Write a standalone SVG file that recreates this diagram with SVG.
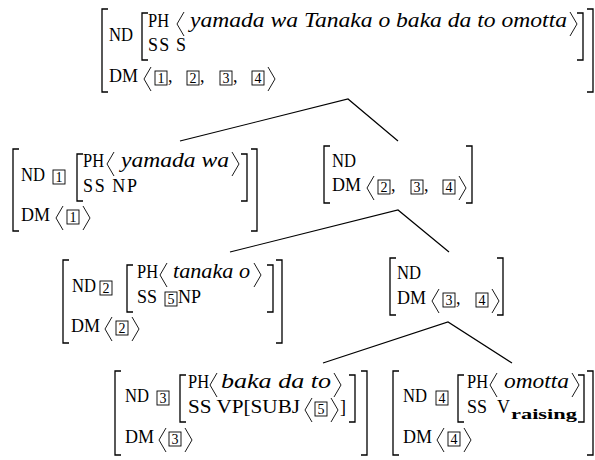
<svg xmlns="http://www.w3.org/2000/svg" width="595" height="460" viewBox="0 0 595 460" font-family="Liberation Serif, serif">
<style>
text{font-family:'Liberation Serif','Times New Roman',serif;font-size:18px;fill:#000}
.i{font-style:italic;font-size:20px}
.n{font-size:14px;text-anchor:middle}
.sb{font-weight:bold;font-size:15px}
.br{fill:none;stroke:#000;stroke-width:1.3}
.ag{fill:none;stroke:#000;stroke-width:0.9;stroke-linejoin:miter}
.bx{fill:none;stroke:#000;stroke-width:0.9}
.cn{fill:none;stroke:#000;stroke-width:1.2}
</style>
<rect width="595" height="460" fill="#fff"/>

<g id="connectors">
<polyline class="cn" points="180,141 348,99 398,141"/>
<polyline class="cn" points="230,252 398,210 449,252"/>
<polyline class="cn" points="323,363 448,322 512,363"/>
</g>

<g id="node0">
<path class="br" d="M108,9H102V92H108"/>
<path class="br" d="M587,9H593V92H587"/>
<path class="br" d="M148,13H142V60H148"/>
<path class="br" d="M577,13H583V60H577"/>
<text x="109" y="41" textLength="24" lengthAdjust="spacingAndGlyphs">ND</text>
<text x="148" y="27" textLength="21" lengthAdjust="spacingAndGlyphs">PH</text>
<polyline class="ag" points="184,12 177,24 184,36"/>
<text class="i" x="190" y="27" textLength="377" lengthAdjust="spacingAndGlyphs">yamada wa Tanaka o baka da to omotta</text>
<polyline class="ag" points="570,12 577,24 570,36"/>
<text x="148" y="51" textLength="38" lengthAdjust="spacing">SS S</text>
<text x="109" y="82">DM</text>
<polyline class="ag" points="151,67 144,79 151,91"/>
<rect class="bx" x="155" y="71" width="12" height="14"/><text class="n" x="161" y="83">1</text>
<text x="168" y="82">,</text>
<rect class="bx" x="187" y="71" width="12" height="14"/><text class="n" x="193" y="83">2</text>
<text x="200" y="82">,</text>
<rect class="bx" x="220" y="71" width="12" height="14"/><text class="n" x="226" y="83">3</text>
<text x="233" y="82">,</text>
<rect class="bx" x="252" y="71" width="12" height="14"/><text class="n" x="258" y="83">4</text>
<polyline class="ag" points="268,67 275,79 268,91"/>
</g>

<g id="node1">
<path class="br" d="M19,149H13V231H19"/>
<path class="br" d="M251,149H257V231H251"/>
<path class="br" d="M83,154H77V201H83"/>
<path class="br" d="M241,154H247V201H241"/>
<text x="21" y="181" textLength="24" lengthAdjust="spacingAndGlyphs">ND</text>
<rect class="bx" x="53" y="170" width="12" height="14"/><text class="n" x="59" y="182">1</text>
<text x="83" y="167" textLength="21" lengthAdjust="spacingAndGlyphs">PH</text>
<polyline class="ag" points="114,152 107,164 114,176"/>
<text class="i" x="121" y="167" textLength="108" lengthAdjust="spacingAndGlyphs">yamada wa</text>
<polyline class="ag" points="232,152 239,164 232,176"/>
<text x="83" y="192" textLength="54" lengthAdjust="spacing">SS NP</text>
<text x="21" y="221">DM</text>
<polyline class="ag" points="63,206 56,218 63,230"/>
<rect class="bx" x="67" y="210" width="12" height="14"/><text class="n" x="73" y="222">1</text>
<polyline class="ag" points="83,206 90,218 83,230"/>
</g>

<g id="node2">
<path class="br" d="M330,146H324V203H330"/>
<path class="br" d="M466,146H472V203H466"/>
<text x="332" y="167" textLength="24" lengthAdjust="spacingAndGlyphs">ND</text>
<text x="332" y="191">DM</text>
<polyline class="ag" points="374,176 367,188 374,200"/>
<rect class="bx" x="378" y="180" width="12" height="14"/><text class="n" x="384" y="192">2</text>
<text x="391" y="191">,</text>
<rect class="bx" x="411" y="180" width="12" height="14"/><text class="n" x="417" y="192">3</text>
<text x="424" y="191">,</text>
<rect class="bx" x="443" y="180" width="12" height="14"/><text class="n" x="449" y="192">4</text>
<polyline class="ag" points="459,176 466,188 459,200"/>
</g>

<g id="node3">
<path class="br" d="M69,260H63V343H69"/>
<path class="br" d="M276,260H282V343H276"/>
<path class="br" d="M133,265H127V312H133"/>
<path class="br" d="M267,265H273V312H267"/>
<text x="72" y="292" textLength="24" lengthAdjust="spacingAndGlyphs">ND</text>
<rect class="bx" x="100" y="281" width="12" height="14"/><text class="n" x="106" y="293">2</text>
<text x="137" y="278" textLength="21" lengthAdjust="spacingAndGlyphs">PH</text>
<polyline class="ag" points="167,263 160,275 167,287"/>
<text class="i" x="173" y="278" textLength="77" lengthAdjust="spacingAndGlyphs">tanaka o</text>
<polyline class="ag" points="254,263 261,275 254,287"/>
<text x="137" y="303">SS</text>
<rect class="bx" x="165" y="292" width="12" height="14"/><text class="n" x="171" y="304">5</text>
<text x="178" y="303">NP</text>
<text x="71" y="332">DM</text>
<polyline class="ag" points="112,317 105,329 112,341"/>
<rect class="bx" x="116" y="321" width="12" height="14"/><text class="n" x="122" y="333">2</text>
<polyline class="ag" points="132,317 139,329 132,341"/>
</g>

<g id="node4">
<path class="br" d="M396,258H390V315H396"/>
<path class="br" d="M497,258H503V315H497"/>
<text x="397" y="279" textLength="24" lengthAdjust="spacingAndGlyphs">ND</text>
<text x="397" y="304">DM</text>
<polyline class="ag" points="439,289 432,301 439,313"/>
<rect class="bx" x="443" y="293" width="12" height="14"/><text class="n" x="449" y="305">3</text>
<text x="456" y="304">,</text>
<rect class="bx" x="476" y="293" width="12" height="14"/><text class="n" x="482" y="305">4</text>
<polyline class="ag" points="492,289 499,301 492,313"/>
</g>

<g id="node5">
<path class="br" d="M121,371H115V455H121"/>
<path class="br" d="M361,371H367V455H361"/>
<path class="br" d="M186,375H180V422H186"/>
<path class="br" d="M349,375H355V422H349"/>
<text x="125" y="402" textLength="24" lengthAdjust="spacingAndGlyphs">ND</text>
<rect class="bx" x="157" y="391" width="12" height="14"/><text class="n" x="163" y="403">3</text>
<text x="188" y="388" textLength="21" lengthAdjust="spacingAndGlyphs">PH</text>
<polyline class="ag" points="217,373 210,385 217,397"/>
<text class="i" x="221" y="388" textLength="110" lengthAdjust="spacingAndGlyphs">baka da to</text>
<polyline class="ag" points="334,373 341,385 334,397"/>
<text x="188" y="413" textLength="112" lengthAdjust="spacingAndGlyphs">SS VP[SUBJ</text>
<polyline class="ag" points="312,398 305,410 312,422"/>
<rect class="bx" x="315" y="402" width="12" height="14"/><text class="n" x="321" y="414">5</text>
<polyline class="ag" points="331,398 338,410 331,422"/>
<text x="340" y="413">]</text>
<text x="125" y="443">DM</text>
<polyline class="ag" points="166,428 159,440 166,452"/>
<rect class="bx" x="169" y="432" width="12" height="14"/><text class="n" x="175" y="444">3</text>
<polyline class="ag" points="185,428 192,440 185,452"/>
</g>

<g id="node6">
<path class="br" d="M399,371H393V455H399"/>
<path class="br" d="M587,371H593V455H587"/>
<path class="br" d="M464,375H458V422H464"/>
<path class="br" d="M578,375H584V422H578"/>
<text x="403" y="402" textLength="24" lengthAdjust="spacingAndGlyphs">ND</text>
<rect class="bx" x="436" y="391" width="12" height="14"/><text class="n" x="442" y="403">4</text>
<text x="467" y="388" textLength="21" lengthAdjust="spacingAndGlyphs">PH</text>
<polyline class="ag" points="497,373 490,385 497,397"/>
<text class="i" x="504" y="388" textLength="65" lengthAdjust="spacingAndGlyphs">omotta</text>
<polyline class="ag" points="572,373 579,385 572,397"/>
<text x="467" y="413">SS</text>
<text x="497" y="413">V</text>
<text class="sb" x="511" y="419" textLength="66" lengthAdjust="spacingAndGlyphs">raising</text>
<text x="403" y="443">DM</text>
<polyline class="ag" points="444,428 437,440 444,452"/>
<rect class="bx" x="448" y="432" width="12" height="14"/><text class="n" x="454" y="444">4</text>
<polyline class="ag" points="464,428 471,440 464,452"/>
</g>
</svg>
